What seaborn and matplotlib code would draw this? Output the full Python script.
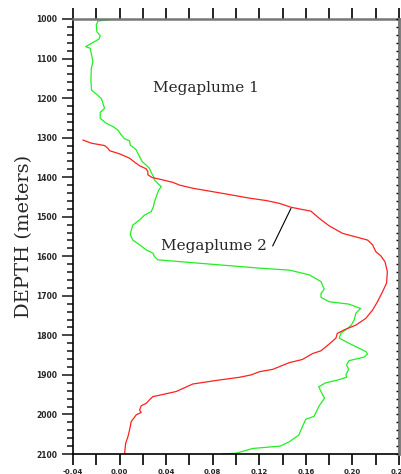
import matplotlib
matplotlib.use("Agg")
import matplotlib.pyplot as plt
import seaborn as sns
import numpy as np
import pandas as pd
from matplotlib.ticker import MultipleLocator, FixedLocator

# ---- data ----
green_x = [-0.003, -0.0186, -0.020, -0.0195, -0.0166, -0.0177, -0.0214, -0.0292, -0.0252, -0.0243,
           -0.0229, -0.0243, -0.0246, -0.024, -0.020, -0.0157, -0.0143, -0.0129, -0.0166, -0.0166,
           -0.0114, -0.0057, -0.0014, 0.0014, 0.0043, 0.0086, 0.0092, 0.0129, 0.0143, 0.0157,
           0.0172, 0.0195, 0.0234, 0.0257, 0.0272, 0.0292, 0.030, 0.0329, 0.0358, 0.0337,
           0.032, 0.030, 0.029, 0.0272, 0.0214, 0.0172, 0.0114, 0.010, 0.0092, 0.0114,
           0.0172, 0.0229, 0.0286, 0.030, 0.0329, 0.120, 0.1458, 0.163, 0.173, 0.1758,
           0.173, 0.173, 0.180, 0.197, 0.207, 0.203, 0.2015, 0.199, 0.196, 0.190,
           0.1887, 0.197, 0.2116, 0.213, 0.210, 0.197, 0.195, 0.1967, 0.1944, 0.195,
           0.1873, 0.177, 0.171, 0.173, 0.176, 0.1715, 0.167, 0.160, 0.157, 0.154,
           0.1458, 0.138, 0.1144, 0.100, 0.088]
green_depth = [1000, 1005, 1015, 1032, 1042, 1051, 1057, 1070, 1074, 1087,
               1108, 1125, 1158, 1180, 1190, 1201, 1213, 1226, 1236, 1251,
               1264, 1272, 1281, 1293, 1303, 1308, 1319, 1327, 1331, 1340,
               1348, 1361, 1371, 1378, 1388, 1399, 1407, 1416, 1424, 1432,
               1445, 1462, 1475, 1487, 1496, 1508, 1521, 1534, 1546, 1559,
               1571, 1584, 1592, 1601, 1609, 1630, 1635, 1647, 1664, 1683,
               1694, 1704, 1715, 1721, 1732, 1744, 1761, 1774, 1782, 1795,
               1807, 1820, 1841, 1847, 1855, 1864, 1875, 1886, 1900, 1906,
               1913, 1920, 1930, 1942, 1959, 1978, 2005, 2012, 2031, 2052,
               2069, 2080, 2086, 2098, 2100]

red_x = [-0.0315, -0.0243, -0.0129, -0.010, -0.0086, 0.0, 0.0086, 0.0129, 0.0172, 0.0229,
         0.0243, 0.0243, 0.028, 0.0343, 0.0457, 0.0515, 0.0629, 0.0886, 0.1115, 0.1258,
         0.137, 0.1472, 0.1644, 0.1715, 0.180, 0.1915, 0.213, 0.2173, 0.220, 0.2244,
         0.228, 0.230, 0.2293, 0.2258, 0.2215, 0.2173, 0.2115, 0.203, 0.193, 0.187,
         0.1858, 0.180, 0.173, 0.1658, 0.157, 0.1458, 0.1315, 0.120, 0.113, 0.103,
         0.083, 0.0629, 0.0486, 0.0286, 0.0257, 0.0229, 0.0186, 0.0172, 0.0186, 0.0143,
         0.010, 0.0086, 0.0072, 0.0052, 0.0043]
red_depth = [1306, 1314, 1320, 1327, 1333, 1341, 1352, 1362, 1371, 1379,
             1386, 1394, 1401, 1405, 1413, 1420, 1428, 1441, 1453, 1459,
             1466, 1476, 1486, 1504, 1523, 1542, 1559, 1571, 1588, 1599,
             1614, 1639, 1668, 1690, 1715, 1736, 1757, 1774, 1786, 1795,
             1807, 1822, 1839, 1846, 1861, 1869, 1886, 1892, 1900, 1906,
             1914, 1923, 1942, 1955, 1963, 1972, 1978, 1989, 1995, 2001,
             2018, 2039, 2056, 2073, 2100]

x_ticklabels = ["-0.04", "0.00", "0.04", "0.08", "0.12", "0.16", "0.20", "0.24"]
y_ticklabels = ["1000", "1100", "1200", "1300", "1400", "1500", "1600",
                "1700", "1800", "1900", "2000", "2100"]
labels = ["Megaplume 1", "Megaplume 2"]

# ---- figure ----
sns.set_style("white")
plt.rcParams["axes.unicode_minus"] = False
fig = plt.figure(figsize=(4.01, 4.74), dpi=100)
ax = fig.add_axes([73 / 401, 20 / 474, 326 / 401, 435 / 474])

sns.lineplot(x=green_x, y=green_depth, sort=False, estimator=None, ax=ax,
             color="#22ee22", linewidth=0.9)
sns.lineplot(x=red_x, y=red_depth, sort=False, estimator=None, ax=ax,
             color="#ff2020", linewidth=0.9)

ax.set_xlim(-0.04, 0.24)
ax.set_ylim(2100, 1000)

xt = [float(s) for s in x_ticklabels]
ax.xaxis.set_major_locator(FixedLocator(xt))
ax.set_xticklabels(x_ticklabels)
ax.xaxis.set_minor_locator(MultipleLocator(0.02))
yt = [int(s) for s in y_ticklabels]
ax.yaxis.set_major_locator(FixedLocator(yt))
ax.set_yticklabels(y_ticklabels)
ax.yaxis.set_minor_locator(MultipleLocator(20))

ax.tick_params(axis="x", which="both", direction="out", length=8, width=1.2,
               top=True, bottom=True, labeltop=False, color="black", pad=3)
ax.tick_params(axis="x", which="major", labelsize=5)
ax.tick_params(axis="y", which="major", direction="out", length=8, width=1.2,
               left=True, right=False, labelsize=5.5, pad=3.5)
ax.tick_params(axis="y", which="minor", direction="out", length=4.5, width=1.2,
               left=True, right=False)
for lab in ax.get_xticklabels() + ax.get_yticklabels():
    lab.set_fontweight("bold")

# right-side inward minor ticks
ax2 = ax.twinx()
ax2.set_ylim(2100, 1000)
ax2.yaxis.set_major_locator(MultipleLocator(20))
ax2.tick_params(axis="y", direction="in", length=2.5, width=1.0, labelright=False,
                color="black")
ax2.set_xlim(ax.get_xlim())

for s in ["left", "bottom"]:
    ax.spines[s].set_color("black")
    ax.spines[s].set_linewidth(1.2)
for s in ["top", "right"]:
    ax.spines[s].set_color("#777777")
    ax.spines[s].set_linewidth(1.8)
for s in ax2.spines:
    ax2.spines[s].set_visible(False)
ax2.spines["right"].set_visible(True)
ax2.spines["right"].set_color("#777777")
ax2.spines["right"].set_linewidth(1.8)

ax.set_xlabel("")
ax.set_ylabel("DEPTH (meters)", family="DejaVu Serif", fontsize=14, labelpad=2)

ax.text(0.0286, 1184, labels[0], family="DejaVu Serif", fontsize=11,
        ha="left", va="baseline")
ax.text(0.0357, 1584, labels[1], family="DejaVu Serif", fontsize=11,
        ha="left", va="baseline")
ax.plot([0.1315, 0.1472], [1574, 1479], color="black", linewidth=0.8)

fig.savefig("out.png", dpi=100)
